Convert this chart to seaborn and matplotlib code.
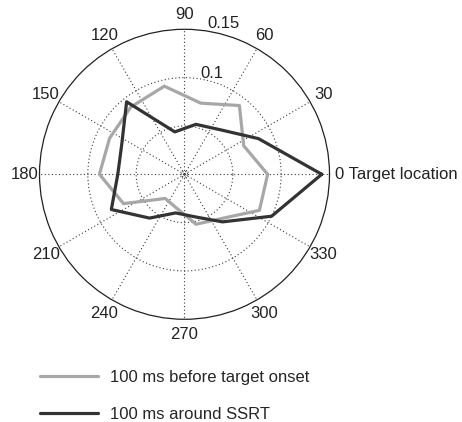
import numpy as np
import pandas as pd
import matplotlib
matplotlib.use("Agg")
import matplotlib.pyplot as plt
import seaborn as sns

sns.set_style("white")
plt.rcParams["font.family"] = ["Liberation Sans", "DejaVu Sans"]

# Saccade direction bins (degrees, relative to the target location)
direction_deg = [0, 25.7, 51.4, 77.1, 102.9, 128.6, 154.3,
                 180, 205.7, 231.4, 257.1, 282.9, 308.6, 334.3]
# Normalised proportion of microsaccades per direction bin
before_target = [0.086, 0.068, 0.091, 0.0755, 0.0935, 0.089, 0.086,
                 0.088, 0.070, 0.032, 0.036, 0.053, 0.059, 0.086]
around_ssrt = [0.142, 0.085, 0.059, 0.053, 0.045, 0.096, 0.072,
               0.069, 0.084, 0.058, 0.041, 0.045, 0.063, 0.100]
series_names = ["100 ms before target onset", "100 ms around SSRT"]
series_colors = ["#a7a7a7", "#333333"]

angle_ticks = [0, 30, 60, 90, 120, 150, 180, 210, 240, 270, 300, 330]
radial_ticks = [0.05, 0.1, 0.15]
radial_tick_labels = ["0.1", "0.15"]
r_max = 0.15
FS = 12
TXT = "#222222"

# Long-form table, each polygon closed back on its first bin
rows = []
for name, values in zip(series_names, [before_target, around_ssrt]):
    th = list(np.deg2rad(direction_deg)) + [2 * np.pi]
    rr = list(values) + [values[0]]
    for i, (t, r) in enumerate(zip(th, rr)):
        rows.append({"theta": t, "r": r, "series": name, "step": i})
df = pd.DataFrame(rows)

fig = plt.figure(figsize=(4.62, 4.22), dpi=100)
ax = fig.add_axes([0.0855, 0.2434, 0.6277, 0.6872], projection="polar")

sns.lineplot(data=df, x="theta", y="r", hue="series", hue_order=series_names,
             palette=series_colors, sort=False, estimator=None, units="series",
             linewidth=2.3, ax=ax)

ax.set_ylim(0, r_max)
ax.set_xlabel("")
ax.set_ylabel("")
ax.set_xticks(np.deg2rad(angle_ticks))
ax.set_xticklabels([])
ax.set_yticks(radial_ticks[:2])
ax.set_yticklabels([])
ax.grid(True, color="#3a3a3a", linestyle=(0, (1, 2.2)), linewidth=0.8)
ax.spines["polar"].set_color("#222222")
ax.spines["polar"].set_linewidth(0.9)

# tiny circle marking the origin
circ = np.linspace(0, 2 * np.pi, 60)
ax.plot(circ, np.full_like(circ, 0.003), color="#3a3a3a",
        linestyle=(0, (1, 1.5)), linewidth=0.8)


def polar_label(angle_deg, frac, text, **kw):
    """Place text at a fraction of the outer radius, in axes coordinates."""
    a = np.deg2rad(angle_deg)
    ax.text(0.5 + 0.5 * frac * np.cos(a), 0.5 + 0.5 * frac * np.sin(a), text,
            transform=ax.transAxes, fontsize=FS, color=TXT, clip_on=False, **kw)


# angle labels
for a in angle_ticks:
    if a == 0:
        polar_label(0, 1.038, "0 Target location", ha="left", va="center")
    else:
        polar_label(a, 1.105, str(a), ha="center", va="center")

# radial labels
polar_label(75, 0.72, radial_tick_labels[0], ha="center", va="center")
polar_label(75.6, 1.075, radial_tick_labels[1], ha="center", va="center")

sns.move_legend(ax, loc="upper left", bbox_to_anchor=(40 / 462, 0.124),
                bbox_transform=fig.transFigure, frameon=False, title=None,
                handlelength=3.47, handletextpad=0.72, labelspacing=1.34,
                borderpad=0, borderaxespad=0, fontsize=FS)

fig.savefig("out.png", dpi=100)
